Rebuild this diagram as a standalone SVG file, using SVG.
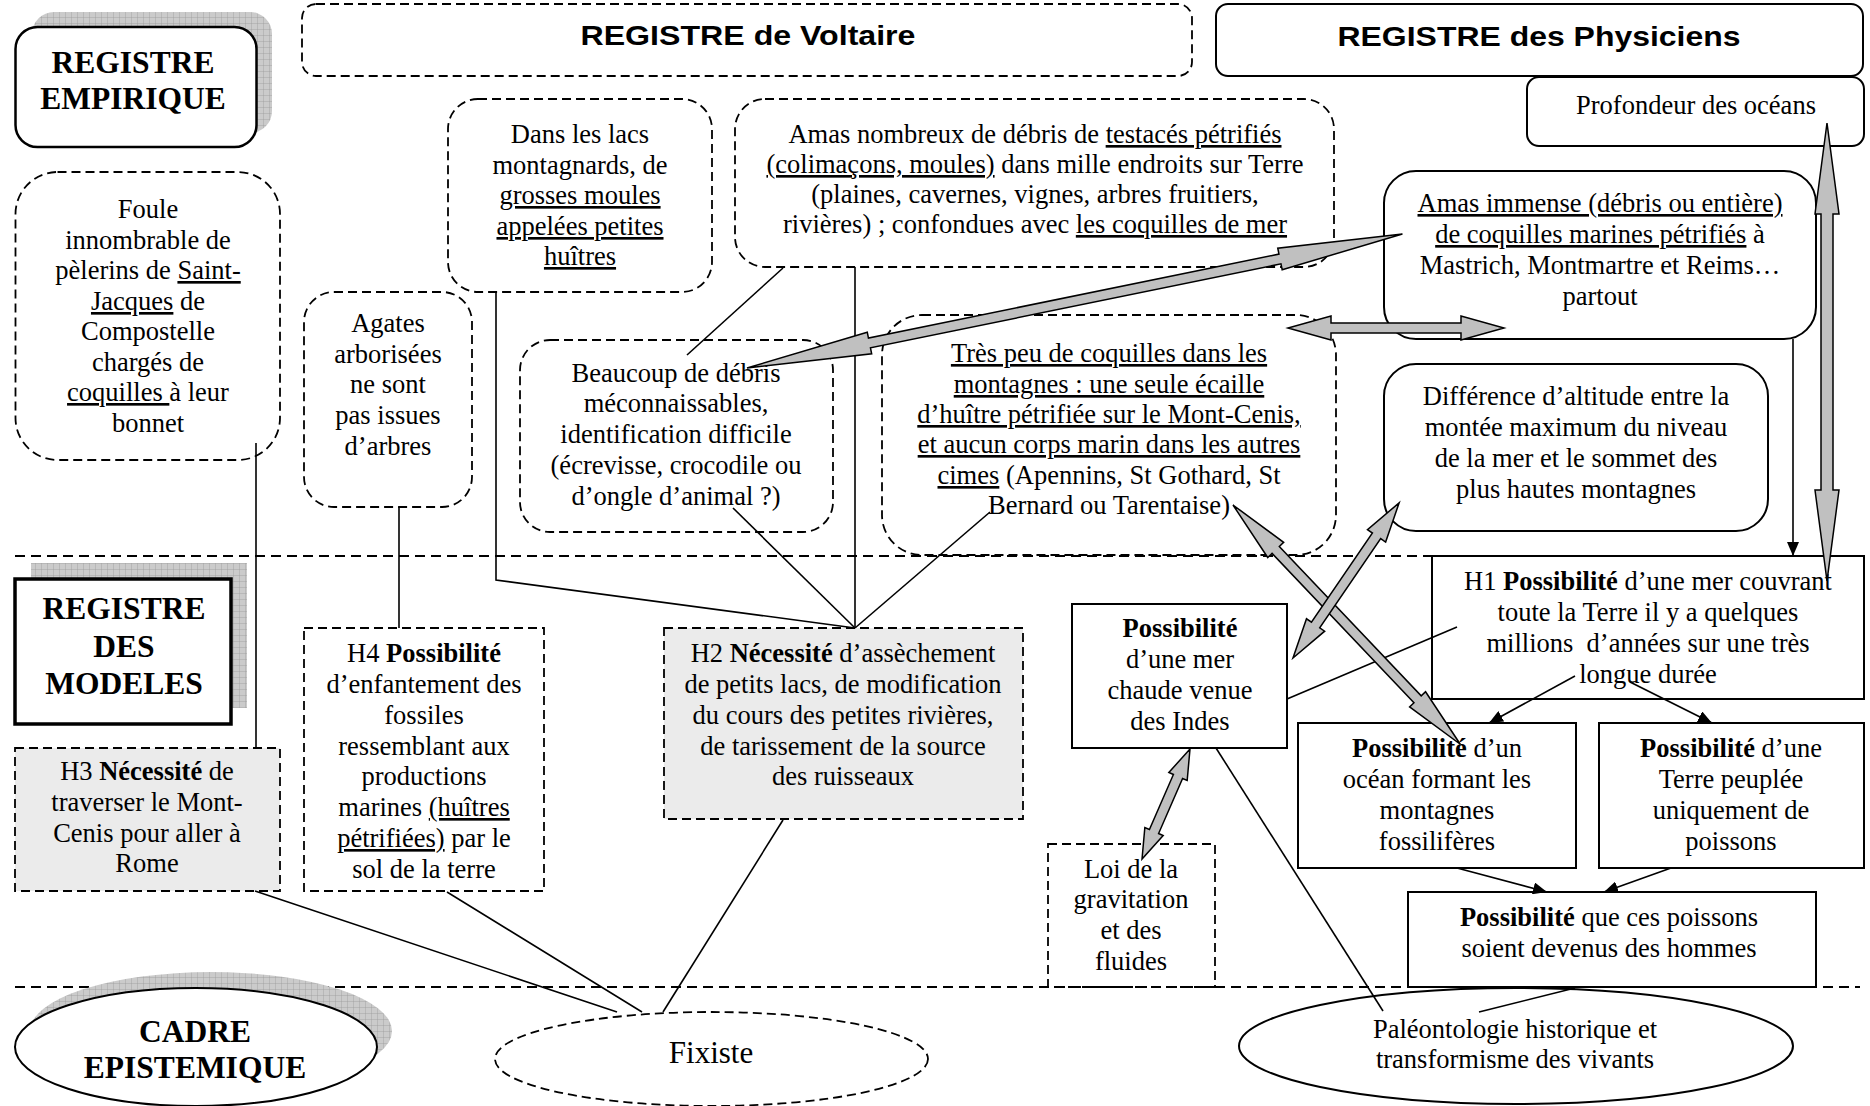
<svg xmlns="http://www.w3.org/2000/svg" width="1870" height="1106" viewBox="0 0 1870 1106">
<defs>
<style>
.t{font-family:"Liberation Serif","Times New Roman",serif;font-size:26.5px;text-anchor:middle;fill:#000}
.b{font-weight:bold}
.u{text-decoration:underline}
.h{font-family:"Liberation Serif","Times New Roman",serif;font-size:31.5px;font-weight:bold;text-anchor:middle;fill:#000}
.a{font-family:"Liberation Sans",Arial,sans-serif;font-size:28px;font-weight:bold;text-anchor:middle;fill:#000}
.dash{fill:none;stroke:#000;stroke-width:1.8;stroke-dasharray:9 5}
.dashg{fill:#ebebeb;stroke:#000;stroke-width:1.8;stroke-dasharray:9 5}
.solid{fill:#fff;stroke:#000;stroke-width:2}
.sep{stroke:#000;stroke-width:2;stroke-dasharray:10 6}
.ln{stroke:#000;stroke-width:1.6;fill:none}
.ar{stroke:#000;stroke-width:1.6;fill:none;marker-end:url(#ah)}
.ga{fill:#c0c0c0;stroke:#000;stroke-width:1.5}
.sh{fill:url(#grid);stroke:none}
</style>
<pattern id="grid" width="6" height="6" patternUnits="userSpaceOnUse"><rect width="6" height="6" fill="#cbcbcb"/><path d="M6,0 V6 M0,6 H6" stroke="#999" stroke-width="0.8"/></pattern>
<marker id="ah" markerWidth="14" markerHeight="12" refX="14" refY="6" orient="auto" markerUnits="userSpaceOnUse"><path d="M0,0 L14,6 L0,12 z" fill="#000"/></marker>
</defs>
<rect width="1870" height="1106" fill="#fff"/>

<g id="separators">
<line class="sep" x1="15" y1="556" x2="1860" y2="556"/>
<line class="sep" x1="15" y1="987" x2="1860" y2="987"/>
</g>

<g id="registre-voltaire">
<rect class="dash" x="302" y="4" width="890" height="72" rx="14"/>
<text class="a" x="748" y="45" textLength="335" lengthAdjust="spacingAndGlyphs">REGISTRE de Voltaire</text>
</g>
<g id="registre-physiciens">
<rect class="solid" x="1216" y="4" width="647" height="72" rx="12"/>
<text class="a" x="1539" y="46" textLength="403" lengthAdjust="spacingAndGlyphs">REGISTRE des Physiciens</text>
</g>
<g id="profondeur">
<rect class="solid" x="1527" y="77" width="337" height="69" rx="12"/>
<text class="t" x="1696" y="114">Profondeur des océans</text>
</g>

<g id="registre-empirique">
<rect class="sh" x="32" y="12" width="240" height="121" rx="22"/>
<rect x="15.5" y="27" width="241" height="120" rx="22" fill="#fff" stroke="#000" stroke-width="2.5"/>
<text class="h" x="133" y="73">REGISTRE</text>
<text class="h" x="133" y="109">EMPIRIQUE</text>
</g>

<g id="foule">
<rect class="dash" x="15.5" y="172" width="264.5" height="288" rx="42"/>
<text class="t" x="148" y="218">Foule</text>
<text class="t" x="148" y="249">innombrable de</text>
<text class="t" x="148" y="279">pèlerins de <tspan class="u">Saint-</tspan></text>
<text class="t" x="148" y="310"><tspan class="u">Jacques</tspan> de</text>
<text class="t" x="148" y="340">Compostelle</text>
<text class="t" x="148" y="371">chargés de</text>
<text class="t" x="148" y="401"><tspan class="u">coquilles </tspan>à leur</text>
<text class="t" x="148" y="432">bonnet</text>
</g>

<g id="agates">
<rect class="dash" x="304" y="292" width="168" height="215" rx="30"/>
<text class="t" x="388" y="332">Agates</text>
<text class="t" x="388" y="363">arborisées</text>
<text class="t" x="388" y="393">ne sont</text>
<text class="t" x="388" y="424">pas issues</text>
<text class="t" x="388" y="455">d’arbres</text>
</g>

<g id="lacs">
<rect class="dash" x="448" y="99" width="264" height="193" rx="30"/>
<text class="t" x="580" y="143">Dans les lacs</text>
<text class="t" x="580" y="174">montagnards, de</text>
<text class="t" x="580" y="204"><tspan class="u">grosses moules</tspan></text>
<text class="t" x="580" y="235"><tspan class="u">appelées petites</tspan></text>
<text class="t" x="580" y="265"><tspan class="u">huîtres</tspan></text>
</g>

<g id="amas">
<rect class="dash" x="735" y="99" width="599" height="168" rx="30"/>
<text class="t" x="1035" y="143">Amas nombreux de débris de <tspan class="u">testacés pétrifiés</tspan></text>
<text class="t" x="1035" y="173"><tspan class="u">(colimaçons, moules)</tspan> dans mille endroits sur Terre</text>
<text class="t" x="1035" y="203">(plaines, cavernes, vignes, arbres fruitiers,</text>
<text class="t" x="1035" y="233">rivières) ; confondues avec <tspan class="u">les coquilles de mer</tspan></text>
</g>

<g id="beaucoup">
<rect class="dash" x="520" y="340" width="313" height="192" rx="30"/>
<text class="t" x="676" y="382">Beaucoup de débris</text>
<text class="t" x="676" y="412">méconnaissables,</text>
<text class="t" x="676" y="443">identification difficile</text>
<text class="t" x="676" y="474">(écrevisse, crocodile ou</text>
<text class="t" x="676" y="505">d’ongle d’animal ?)</text>
</g>

<g id="tres-peu">
<rect class="dash" x="882" y="315" width="454" height="240" rx="40"/>
<text class="t" x="1109" y="362"><tspan class="u">Très peu de coquilles dans les</tspan></text>
<text class="t" x="1109" y="393"><tspan class="u">montagnes : une seule écaille</tspan></text>
<text class="t" x="1109" y="423"><tspan class="u">d’huître pétrifiée sur le Mont-Cenis,</tspan></text>
<text class="t" x="1109" y="453"><tspan class="u">et aucun corps marin dans les autres</tspan></text>
<text class="t" x="1109" y="484"><tspan class="u">cimes</tspan> (Apennins, St Gothard, St</text>
<text class="t" x="1109" y="514">Bernard ou Tarentaise)</text>
</g>

<g id="amas-immense">
<rect class="solid" x="1384" y="171" width="432" height="168" rx="32"/>
<text class="t" x="1600" y="212"><tspan class="u">Amas immense (débris ou entière)</tspan></text>
<text class="t" x="1600" y="243"><tspan class="u">de coquilles marines pétrifiés</tspan> à</text>
<text class="t" x="1600" y="274">Mastrich, Montmartre et Reims…</text>
<text class="t" x="1600" y="305">partout</text>
</g>

<g id="difference">
<rect class="solid" x="1384" y="364" width="384" height="167" rx="32"/>
<text class="t" x="1576" y="405">Différence d’altitude entre la</text>
<text class="t" x="1576" y="436">montée maximum du niveau</text>
<text class="t" x="1576" y="467">de la mer et le sommet des</text>
<text class="t" x="1576" y="498">plus hautes montagnes</text>
</g>

<g id="registre-modeles">
<rect class="sh" x="31" y="563" width="216" height="145"/>
<rect x="15" y="579" width="216" height="145" fill="#fff" stroke="#000" stroke-width="3.5"/>
<text class="h" x="124" y="619">REGISTRE</text>
<text class="h" x="124" y="657">DES</text>
<text class="h" x="124" y="694">MODELES</text>
</g>

<g id="h3">
<rect class="dashg" x="15" y="748" width="265" height="143"/>
<text class="t" x="147" y="780">H3 <tspan class="b">Nécessité</tspan> de</text>
<text class="t" x="147" y="811">traverser le Mont-</text>
<text class="t" x="147" y="842">Cenis pour aller à</text>
<text class="t" x="147" y="872">Rome</text>
</g>

<g id="h4">
<rect class="dash" x="304" y="628" width="240" height="263"/>
<text class="t" x="424" y="662">H4 <tspan class="b">Possibilité</tspan></text>
<text class="t" x="424" y="693">d’enfantement des</text>
<text class="t" x="424" y="724">fossiles</text>
<text class="t" x="424" y="755">ressemblant aux</text>
<text class="t" x="424" y="785">productions</text>
<text class="t" x="424" y="816">marines <tspan class="u">(huîtres</tspan></text>
<text class="t" x="424" y="847"><tspan class="u">pétrifiées)</tspan> par le</text>
<text class="t" x="424" y="878">sol de la terre</text>
</g>

<g id="h2">
<rect class="dashg" x="664" y="628" width="359" height="191"/>
<text class="t" x="843" y="662">H2 <tspan class="b">Nécessité</tspan> d’assèchement</text>
<text class="t" x="843" y="693">de petits lacs, de modification</text>
<text class="t" x="843" y="724">du cours des petites rivières,</text>
<text class="t" x="843" y="755">de tarissement de la source</text>
<text class="t" x="843" y="785">des ruisseaux</text>
</g>

<g id="mer-chaude">
<rect class="solid" x="1072" y="604" width="215" height="144"/>
<text class="t" x="1180" y="637"><tspan class="b">Possibilité</tspan></text>
<text class="t" x="1180" y="668">d’une mer</text>
<text class="t" x="1180" y="699">chaude venue</text>
<text class="t" x="1180" y="730">des Indes</text>
</g>

<g id="loi">
<rect class="dash" x="1048" y="844" width="167" height="143"/>
<text class="t" x="1131" y="878">Loi de la</text>
<text class="t" x="1131" y="908">gravitation</text>
<text class="t" x="1131" y="939">et des</text>
<text class="t" x="1131" y="970">fluides</text>
</g>

<g id="h1">
<rect class="solid" x="1432" y="556" width="432" height="143"/>
<text class="t" x="1648" y="590">H1 <tspan class="b">Possibilité</tspan> d’une mer couvrant</text>
<text class="t" x="1648" y="621">toute la Terre il y a quelques</text>
<text class="t" x="1648" y="652" xml:space="preserve">millions  d’années sur une très</text>
<text class="t" x="1648" y="683">longue durée</text>
</g>

<g id="ocean">
<rect class="solid" x="1298" y="723" width="278" height="145"/>
<text class="t" x="1437" y="757"><tspan class="b">Possibilité</tspan> d’un</text>
<text class="t" x="1437" y="788">océan formant les</text>
<text class="t" x="1437" y="819">montagnes</text>
<text class="t" x="1437" y="850">fossilifères</text>
</g>

<g id="terre-poissons">
<rect class="solid" x="1599" y="723" width="265" height="145"/>
<text class="t" x="1731" y="757"><tspan class="b">Possibilité</tspan> d’une</text>
<text class="t" x="1731" y="788">Terre peuplée</text>
<text class="t" x="1731" y="819">uniquement de</text>
<text class="t" x="1731" y="850">poissons</text>
</g>

<g id="hommes">
<rect class="solid" x="1408" y="892" width="408" height="95"/>
<text class="t" x="1609" y="926"><tspan class="b">Possibilité</tspan> que ces poissons</text>
<text class="t" x="1609" y="957">soient devenus des hommes</text>
</g>

<g id="cadre-epistemique">
<ellipse class="sh" cx="211" cy="1031" rx="181" ry="59"/>
<ellipse cx="196" cy="1047" rx="181" ry="59" fill="#fff" stroke="#000" stroke-width="2"/>
<text class="h" x="195" y="1042">CADRE</text>
<text class="h" x="195" y="1078">EPISTEMIQUE</text>
</g>

<g id="fixiste">
<ellipse class="dash" cx="711.5" cy="1059" rx="216.5" ry="47"/>
<text class="t" x="711" y="1063" style="font-size:31px">Fixiste</text>
</g>

<g id="paleontologie">
<ellipse class="solid" cx="1516" cy="1046" rx="277" ry="58"/>
<text class="t" x="1515" y="1038">Paléontologie historique et</text>
<text class="t" x="1515" y="1068">transformisme des vivants</text>
</g>

<g id="connectors">
<line class="ln" x1="256" y1="443" x2="256" y2="748"/>
<line class="ln" x1="399" y1="507" x2="399" y2="628"/>
<polyline class="ln" points="496,292 496,580 855,628"/>
<line class="ln" x1="733" y1="508" x2="855" y2="628"/>
<line class="ln" x1="855" y1="267" x2="855" y2="628"/>
<line class="ln" x1="990" y1="512" x2="855" y2="628"/>
<line class="ln" x1="783" y1="268" x2="687" y2="355"/>
<line class="ln" x1="783" y1="820" x2="663" y2="1012"/>
<line class="ln" x1="255" y1="891" x2="617" y2="1012"/>
<line class="ln" x1="447" y1="892" x2="642" y2="1012"/>
<line class="ln" x1="1287" y1="699" x2="1457" y2="627"/>
<line class="ln" x1="1216" y1="748" x2="1383" y2="1011"/>
<line class="ln" x1="1575" y1="988" x2="1479" y2="1012"/>
<line class="ar" x1="1793" y1="339" x2="1793" y2="556"/>
<line class="ar" x1="1575" y1="676" x2="1489" y2="723"/>
<line class="ar" x1="1630" y1="682" x2="1712" y2="723"/>
<line class="ar" x1="1457" y1="868" x2="1547" y2="892"/>
<line class="ar" x1="1671" y1="868" x2="1604" y2="892"/>
<polygon class="ga" transform="translate(747,368) rotate(-11.56)" points="0,0 125,11 125,5 544,5 544,11 669,0 544,-11 544,-5 125,-5 125,-11"/>
<polygon class="ga" transform="translate(1288,328)" points="0,0 43,12 43,5 173,5 173,12 216,0 173,-12 173,-5 43,-5 43,-12"/>
<polygon class="ga" transform="translate(1827,123) rotate(90)" points="0,0 91,12 91,6 367,6 367,12 458,0 367,-12 367,-6 91,-6 91,-12"/>
<polygon class="ga" transform="translate(1233,505) rotate(46.47)" points="0,0 62,11 62,5 268,5 268,11 330,0 268,-11 268,-5 62,-5 62,-11"/>
<polygon class="ga" transform="translate(1293,658) rotate(-55.63)" points="0,0 40,11 40,5 148,5 148,11 188,0 148,-11 148,-5 40,-5 40,-11"/>
<polygon class="ga" transform="translate(1190,749) rotate(113.57)" points="0,0 30,10 30,5 90,5 90,10 120,0 90,-10 90,-5 30,-5 30,-10"/>
</g>
</svg>
